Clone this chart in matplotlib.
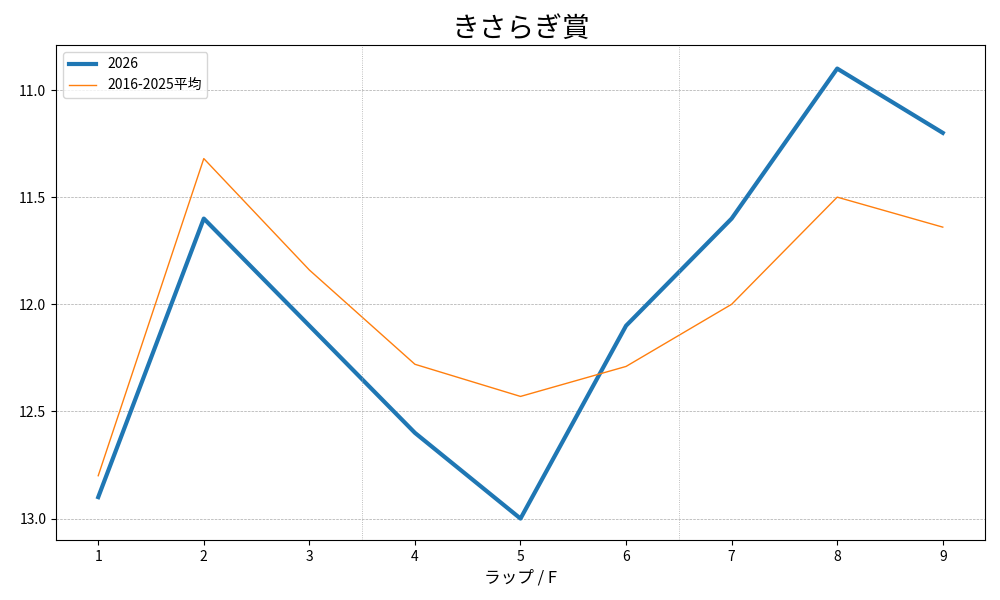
import matplotlib
matplotlib.use("Agg")
import matplotlib.pyplot as plt

plt.rcParams['font.family'] = ['Noto Sans CJK JP', 'DejaVu Sans']

laps = [1, 2, 3, 4, 5, 6, 7, 8, 9]
y2026 = [12.9, 11.6, 12.1, 12.6, 13.0, 12.1, 11.6, 10.9, 11.2]
avg = [12.8, 11.32, 11.84, 12.28, 12.43, 12.29, 12.0, 11.5, 11.64]

fig, ax = plt.subplots(figsize=(10, 6), dpi=100)
ax.plot(laps, y2026, color='#1f77b4', linewidth=3, label='2026')
ax.plot(laps, avg, color='#ff7f0e', linewidth=1, label='2016-2025平均')
ax.set_ylim(13.1, 10.79)
ax.set_xlim(0.6, 9.4)
ax.set_xticks(laps)
ax.set_yticks([11.0, 11.5, 12.0, 12.5, 13.0])
ax.grid(axis='y', linestyle='--', linewidth=0.5, color='#aaaaaa')
for x in [3.5, 6.5]:
    ax.axvline(x, linestyle=':', linewidth=0.6, color='#aaaaaa')
ax.set_xlabel('ラップ / F', fontsize=12)
ax.set_title('きさらぎ賞', fontsize=20)
ax.legend(loc='upper left')
fig.subplots_adjust(left=0.056, right=0.985, top=0.925, bottom=0.1)
fig.savefig('out.png')
